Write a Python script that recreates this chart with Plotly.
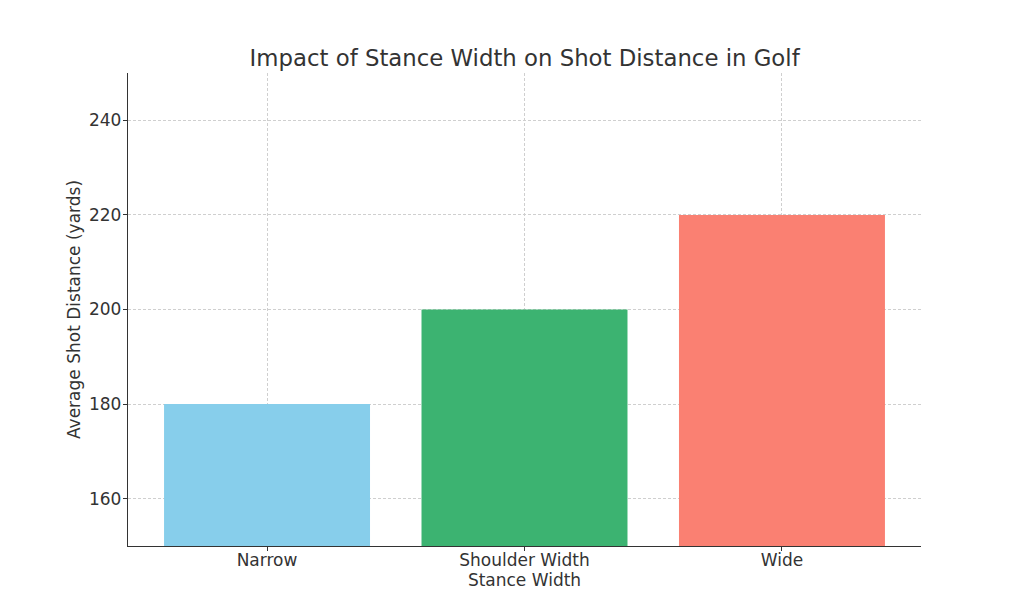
import plotly.graph_objects as go

categories = ["Narrow", "Shoulder Width", "Wide"]
distances = [180, 200, 220]
colors = ["#87CEEB", "#3CB371", "#FA8072"]
y_ticks = [160, 180, 200, 220, 240]

fig = go.Figure()
fig.add_trace(go.Bar(
    x=categories, y=distances, marker=dict(color=colors, line=dict(width=0)),
    width=0.8, base=0,
))

font_color = "#333333"
fig.update_layout(
    width=1016, height=606,
    margin=dict(l=120, r=103, t=65, b=68),
    paper_bgcolor="white", plot_bgcolor="white",
    font=dict(family="DejaVu Sans", size=17, color=font_color),
    title=dict(text="Impact of Stance Width on Shot Distance in Golf",
               x=0.5085, xanchor="center", y=0.918, yanchor="middle",
               font=dict(size=22.8, color=font_color)),
    showlegend=False,
    bargap=0.2,
)
grid = dict(showgrid=True, gridcolor="#cfcfcf", griddash="3px,2px", gridwidth=0.8)
fig.update_xaxes(
    range=[-0.54, 2.54], showline=True, linecolor="#333333", linewidth=1.3,
    ticks="outside", ticklen=4, tickcolor="#333333", ticklabelstandoff=-6,
    layer="above traces", **grid,
    title=dict(text="Stance Width", standoff=4, font=dict(size=17)),
    tickfont=dict(size=17, color=font_color),
)
fig.update_yaxes(
    range=[150, 250], tickvals=y_ticks, showline=True, linecolor="#333333", linewidth=1.3,
    ticks="outside", ticklen=4, tickcolor="#333333", ticklabelstandoff=-2,
    zeroline=False, layer="above traces", **grid,
    title=dict(text="Average Shot Distance (yards)", standoff=4, font=dict(size=17)),
    tickfont=dict(size=17, color=font_color),
)

fig.write_html("out.html")
